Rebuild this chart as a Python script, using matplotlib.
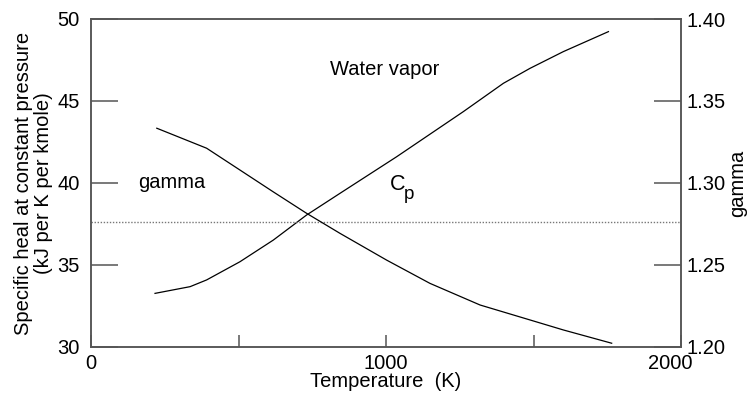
import matplotlib
matplotlib.use("Agg")
import matplotlib.pyplot as plt
import matplotlib.transforms as mtransforms

# ---- data ----
temp_cp = [217, 336, 392, 505, 618, 731, 844, 1036, 1262, 1398, 1488, 1601, 1754]
cp_vals = [33.27, 33.68, 34.09, 35.20, 36.52, 38.05, 39.37, 41.60, 44.35, 46.08, 46.99, 48.01, 49.23]

temp_gamma = [223, 392, 505, 617, 731, 844, 1002, 1149, 1319, 1488, 1601, 1765]
gamma_vals = [1.3334, 1.3212, 1.3079, 1.2947, 1.2815, 1.2693, 1.2530, 1.2388, 1.2256, 1.2165, 1.2104, 1.2023]

ref_level = 37.6  # dotted horizontal line (left axis units)

x_major = [0, 1000, 2000]
x_minor = [500, 1500]
y_left_ticks = [30, 35, 40, 45, 50]
y_right_ticks = [1.20, 1.25, 1.30, 1.35, 1.40]
y_right_labels = ["1.20", "1.25", "1.30", "1.35", "1.40"]

plt.rcParams['font.family'] = ['Liberation Sans', 'DejaVu Sans']

FS = 14.5
spine_col = '#555555'

fig = plt.figure(figsize=(7.54, 4.01), dpi=100)
ax = fig.add_axes([91/754, 1-347/401, 590/754, 328/401])
ax2 = ax.twinx()

ax.plot(temp_cp, cp_vals, color='black', lw=0.9)
ax2.plot(temp_gamma, gamma_vals, color='black', lw=0.9)
ax.axhline(ref_level, color='#777777', lw=1.0, ls=(0, (1, 1.2)))

ax.set_xlim(0, 2000)
ax.set_ylim(30, 50)
ax2.set_ylim(1.20, 1.40)

ax.set_xticks(x_major)
ax.set_xticks(x_minor, minor=True)
ax.set_xticklabels([str(v) for v in x_major], fontsize=FS)
ax.set_yticks(y_left_ticks)
ax.set_yticklabels([str(v) for v in y_left_ticks], fontsize=FS)
ax2.set_yticks(y_right_ticks)
ax2.set_yticklabels(y_right_labels, fontsize=FS)

ax.tick_params(axis='x', which='both', direction='in', length=8.6, width=1.1,
               color=spine_col, pad=5, top=False)
ax.tick_params(axis='y', direction='in', length=19.4, width=1.1,
               color=spine_col, pad=8, right=False)
ax2.tick_params(axis='y', direction='in', length=19.4, width=1.1,
                color=spine_col, pad=4)

for a in (ax, ax2):
    for s in a.spines.values():
        s.set_color(spine_col)
        s.set_linewidth(1.1)

# shift the last x tick label left like in the reference
lbls = ax.get_xticklabels()
off = mtransforms.ScaledTranslation(-11/100, 0, fig.dpi_scale_trans)
lbls[-1].set_transform(lbls[-1].get_transform() + off)

ax.set_xlabel('Temperature  (K)', fontsize=FS, labelpad=-1)
ax.set_ylabel('Specific heal at constant pressure\n(kJ per K per kmole)',
              fontsize=FS, labelpad=3, linespacing=1.12)
ax2.set_ylabel('gamma', fontsize=FS, labelpad=2)

ax.text(997, 46.9, 'Water vapor', fontsize=FS, ha='center', va='center')
ax.text(159, 40.06, 'gamma', fontsize=FS, ha='left', va='center')
ax.text(1014, 39.9, 'C', fontsize=FS + 1, ha='left', va='center')
ax.text(1060, 39.3, 'p', fontsize=FS - 1, ha='left', va='center')

fig.savefig('out.png', dpi=100)
